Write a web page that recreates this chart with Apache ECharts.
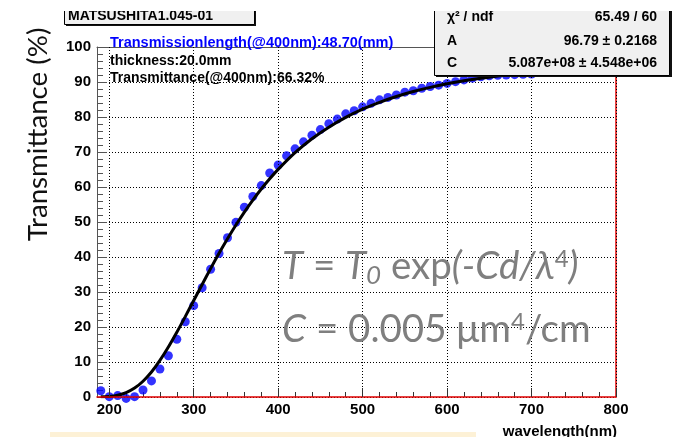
<!DOCTYPE html>
<html>
<head>
<meta charset="utf-8">
<script src="https://cdn.jsdelivr.net/npm/echarts@6/dist/echarts.min.js"></script>
<style>
html,body{margin:0;padding:0;background:#fff;}
#chart{width:674px;height:437px;}
</style>
</head>
<body>
<div id="chart"></div>
<script>
// ---- data ----
var pointWavelength = [190,200,210,220,230,240,250,260,270,280,290,300,310,320,330,340,350,360,370,380,390,400,410,420,430,440,450,460,470,480,490,500,510,520,530,540,550,560,570,580,590,600,610,620,630,640,650,660,670,680,690,700];
var pointTransmittance = [1.8,0.1,0.4,-0.4,0.1,2.0,4.6,8.0,11.8,16.5,21.5,26.1,31.2,36.5,41.0,45.5,49.9,54.2,57.3,60.4,64.0,66.3,68.9,70.9,72.9,74.8,76.4,78.1,79.4,80.9,81.8,82.9,83.9,84.9,85.6,86.3,87.1,87.5,88.2,88.7,89.1,89.6,90.1,90.6,91.1,91.5,91.8,91.9,92.0,92.1,92.2,92.3];
var fitWavelength = [190,200,210,220,230,240,250,260,270,280,290,300,310,320,330,340,350,360,370,380,390,400,420,440,460,480,500,520,540,560,580,600,620,640,660,680,700,720,740,760,780,800];
var fitTransmittance = [0.04,0.17,0.52,1.26,2.55,4.51,7.15,10.45,14.27,18.49,22.97,27.57,32.16,36.68,41.04,45.2,49.14,52.82,56.25,59.42,62.35,65.04,69.8,73.8,77.1,79.9,82.25,84.2,85.87,87.28,88.46,89.48,90.35,91.1,91.74,92.29,92.77,93.2,93.55,93.86,94.14,94.4];
var xMajorTicks = [200,300,400,500,600,700,800];
var xMinorTicks = [220,240,260,280,320,340,360,380,420,440,460,480,520,540,560,580,620,640,660,680,720,740,760,780];
var xRange = [185.5, 800];
var yRange = [0, 100];
var yInterval = 10;
var titleText = 'MATSUSHITA1.045-01';
var statsRows = [['χ² / ndf','65.49 / 60'],['A','96.79 ± 0.2168'],['C','5.087e+08 ± 4.548e+06']];
var infoLines = ['Transmissionlength(@400nm):48.70(mm)','thickness:20.0mm','Transmittance(@400nm):66.32%'];
var yName = 'Transmittance (%)';
var xName = 'wavelength(nm)';

function zip(a,b){var r=[];for(var i=0;i<a.length;i++)r.push([a[i],b[i]]);return r;}

var chart = echarts.init(document.getElementById('chart'), null, {renderer:'canvas'});
var boldFont = 'Liberation Sans, Arial, sans-serif';
var dotted = {color:'#000', width:1, type:[1,2]};
var annSize = 38.5;

var option = {
  animation:false,
  backgroundColor:'#fff',
  grid:{left:97, right:58, top:47, bottom:40, containLabel:false, outerBoundsMode:'none'},
  xAxis:[
    {type:'value', min:xRange[0], max:xRange[1], position:'bottom',
     axisLine:{show:true, onZero:false, lineStyle:{color:'#e00000', width:1.5}},
     axisTick:{show:true, inside:true, length:9, customValues:xMajorTicks, lineStyle:{color:'#333', width:1}},
     axisLabel:{show:true, customValues:xMajorTicks, margin:5, color:'#000', fontSize:15, fontWeight:'bold', fontFamily:boldFont},
     splitLine:{show:true, lineStyle:dotted}, z:5},
    {type:'value', min:xRange[0], max:xRange[1], position:'bottom',
     axisLine:{show:false}, axisLabel:{show:false}, splitLine:{show:false},
     axisTick:{show:true, inside:true, length:5, customValues:xMinorTicks, lineStyle:{color:'#333', width:1}}},
    {type:'value', min:xRange[0], max:xRange[1], position:'top',
     axisLine:{show:true, onZero:false, lineStyle:{color:'#555', width:1}},
     axisTick:{show:false}, axisLabel:{show:false}, splitLine:{show:false}}
  ],
  yAxis:[
    {type:'value', min:yRange[0], max:yRange[1], interval:yInterval, position:'left',
     axisLine:{show:true, onZero:false, lineStyle:{color:'#555', width:1}},
     axisTick:{show:true, inside:true, length:10, lineStyle:{color:'#555'}},
     minorTick:{show:true, splitNumber:5, length:6, lineStyle:{color:'#555'}},
     axisLabel:{margin:6, color:'#000', fontSize:15, fontWeight:'bold', fontFamily:boldFont},
     splitLine:{show:true, lineStyle:dotted}},
    {type:'value', min:yRange[0], max:yRange[1], position:'right',
     axisLine:{show:true, onZero:false, lineStyle:{color:'#e00000', width:1.5}},
     axisTick:{show:false}, axisLabel:{show:false}, splitLine:{show:false}}
  ],
  series:[
    {type:'scatter', xAxisIndex:0, yAxisIndex:0, data:zip(pointWavelength, pointTransmittance),
     symbol:'circle', symbolSize:9, itemStyle:{color:'#0000ff'}, clip:false, z:3},
    {type:'line', xAxisIndex:0, yAxisIndex:0, data:zip(fitWavelength, fitTransmittance),
     showSymbol:false, smooth:0.3, lineStyle:{color:'#000', width:3}, clip:true, z:4}
  ],
  graphic:[
    // annotation formula
    {type:'text', x:282, y:267, z:50, style:{
      text:'{i|T} = {i|T}{sub|0} exp{i|(-Cd/λ}{sup|4}{i|)}',
      fill:'#7f7f7f', font:annSize+'px Lato, sans-serif', verticalAlign:'middle',
      rich:{ i:{fontStyle:'italic', fontSize:annSize, fontFamily:'Lato', fill:'#7f7f7f'},
             sub:{fontStyle:'italic', fontSize:26, fontFamily:'Lato', fill:'#7f7f7f', padding:[18,0,0,0]},
             sup:{fontSize:24, fontFamily:'Lato', fill:'#7f7f7f', padding:[0,0,16,0]} }
    }},
    {type:'text', x:282, y:330, z:50, style:{
      text:'{i|C} = 0.005 μm{sup|4}/cm',
      fill:'#7f7f7f', font:annSize+'px Lato, sans-serif', verticalAlign:'middle',
      rich:{ i:{fontStyle:'italic', fontSize:annSize, fontFamily:'Lato', fill:'#7f7f7f'},
             sup:{fontSize:24, fontFamily:'Lato', fill:'#7f7f7f', padding:[0,0,16,0]} }
    }},
    // info lines
    {type:'text', x:110, y:43, z:50, style:{text:infoLines[0], fill:'#0000ff', font:'bold 14.5px '+boldFont, verticalAlign:'middle'}},
    {type:'text', x:110, y:61, z:50, style:{text:infoLines[1], fill:'#000', font:'bold 14px '+boldFont, verticalAlign:'middle'}},
    {type:'text', x:110, y:78, z:50, style:{text:infoLines[2], fill:'#000', font:'bold 14px '+boldFont, verticalAlign:'middle'}},
    // y name
    {type:'text', x:38.5, y:134.5, rotation:Math.PI/2, z:50, style:{text:yName, fill:'#111', font:'27.7px Lato, sans-serif', align:'center', verticalAlign:'middle'}},
    // x name
    {type:'text', x:617, y:432, z:50, style:{text:xName, fill:'#000', font:'bold 15px '+boldFont, align:'right', verticalAlign:'middle'}},
    // beige bar
    {type:'rect', shape:{x:50, y:432, width:426, height:6}, z:40, style:{fill:'#fdf1d6'}},
    // title box
    {type:'rect', shape:{x:66, y:2, width:190, height:24}, z:60, style:{fill:'#111'}},
    {type:'rect', shape:{x:64.5, y:0.5, width:190, height:24}, z:61, style:{fill:'#f0f0f0', stroke:'#000', lineWidth:1}},
    {type:'text', x:68, y:16.5, z:62, style:{text:titleText, fill:'#000', font:'bold 14px '+boldFont, verticalAlign:'middle'}},
    // stats box
    {type:'rect', shape:{x:436, y:2, width:236, height:75}, z:60, style:{fill:'#111'}},
    {type:'rect', shape:{x:434.5, y:0.5, width:235, height:75}, z:61, style:{fill:'#f0f0f0', stroke:'#000', lineWidth:1}},
    {type:'text', x:447, y:17, z:62, style:{text:statsRows[0][0], fill:'#000', font:'bold 14px '+boldFont, verticalAlign:'middle'}},
    {type:'text', x:657, y:17, z:62, style:{text:statsRows[0][1], fill:'#000', font:'bold 14px '+boldFont, align:'right', verticalAlign:'middle'}},
    {type:'text', x:447, y:41.5, z:62, style:{text:statsRows[1][0], fill:'#000', font:'bold 14px '+boldFont, verticalAlign:'middle'}},
    {type:'text', x:657, y:41.5, z:62, style:{text:statsRows[1][1], fill:'#000', font:'bold 14px '+boldFont, align:'right', verticalAlign:'middle'}},
    {type:'text', x:447, y:63.5, z:62, style:{text:statsRows[2][0], fill:'#000', font:'bold 14px '+boldFont, verticalAlign:'middle'}},
    {type:'text', x:657, y:63.5, z:62, style:{text:statsRows[2][1], fill:'#000', font:'bold 14px '+boldFont, align:'right', verticalAlign:'middle'}},
    // top white crop strip
    {type:'rect', shape:{x:0, y:0, width:674, height:11}, z:70, style:{fill:'#fff'}}
  ]
};
chart.setOption(option);
</script>
</body>
</html>
